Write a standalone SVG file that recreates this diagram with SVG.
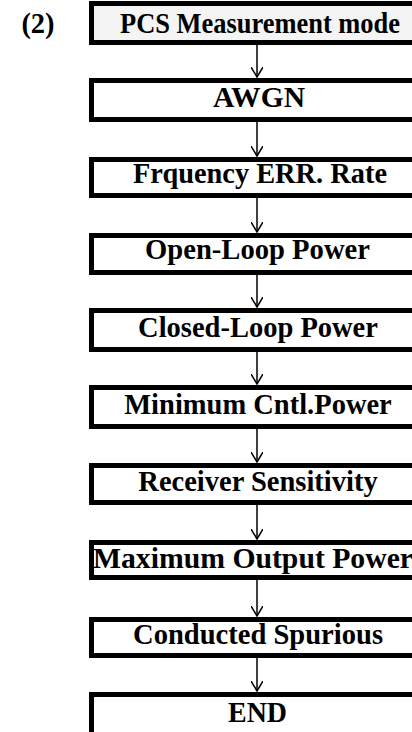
<svg xmlns="http://www.w3.org/2000/svg" width="412" height="732" viewBox="0 0 412 732">
<style>
.box{fill:#fff;stroke:#000;stroke-width:5}
.lbl{font-family:"Liberation Serif","Times New Roman",serif;font-weight:bold;font-size:28.5px;fill:#000;text-anchor:middle}
.c{fill:none;stroke:#000;stroke-width:1.5}
</style>
<defs>
<marker id="ah" viewBox="0 0 12 12" refX="10" refY="6" markerWidth="12" markerHeight="12" markerUnits="userSpaceOnUse" orient="auto">
<path d="M0,0 L10,6 L0,12" fill="none" stroke="#000" stroke-width="1.5"/>
</marker>
</defs>
<rect width="412" height="732" fill="#fff"/>
<text class="lbl" x="38" y="33">(2)</text>
<g id="connectors">
<line class="c" x1="257" y1="45" x2="257" y2="77" marker-end="url(#ah)"/>
<line class="c" x1="257" y1="122" x2="257" y2="156" marker-end="url(#ah)"/>
<line class="c" x1="257" y1="198" x2="257" y2="232" marker-end="url(#ah)"/>
<line class="c" x1="257" y1="275" x2="257" y2="307" marker-end="url(#ah)"/>
<line class="c" x1="257" y1="352" x2="257" y2="384" marker-end="url(#ah)"/>
<line class="c" x1="257" y1="429" x2="257" y2="462" marker-end="url(#ah)"/>
<line class="c" x1="257" y1="505" x2="257" y2="539" marker-end="url(#ah)"/>
<line class="c" x1="257" y1="580" x2="257" y2="616" marker-end="url(#ah)"/>
<line class="c" x1="257" y1="658" x2="257" y2="691" marker-end="url(#ah)"/>
</g>
<g id="n1"><rect class="box" x="91.5" y="3.5" width="330" height="39" style="fill:#f4f4f4"/><text class="lbl" x="260" y="33" textLength="280" lengthAdjust="spacingAndGlyphs">PCS Measurement mode</text></g>
<g id="n2"><rect class="box" x="91.5" y="80.5" width="330" height="39"/><text class="lbl" x="259" y="107" textLength="92" lengthAdjust="spacingAndGlyphs">AWGN</text></g>
<g id="n3"><rect class="box" x="91.5" y="159.5" width="330" height="36"/><text class="lbl" x="260" y="183" textLength="254" lengthAdjust="spacingAndGlyphs">Frquency ERR. Rate</text></g>
<g id="n4"><rect class="box" x="91.5" y="235.5" width="330" height="37"/><text class="lbl" x="257.5" y="259" textLength="225" lengthAdjust="spacingAndGlyphs">Open-Loop Power</text></g>
<g id="n5"><rect class="box" x="91.5" y="310.5" width="330" height="39"/><text class="lbl" x="258" y="337">Closed-Loop Power</text></g>
<g id="n6"><rect class="box" x="91.5" y="387.5" width="330" height="39"/><text class="lbl" x="258" y="414">Minimum Cntl.Power</text></g>
<g id="n7"><rect class="box" x="91.5" y="465.5" width="330" height="37"/><text class="lbl" x="258" y="491">Receiver Sensitivity</text></g>
<g id="n8"><rect class="box" x="91.5" y="542.5" width="330" height="35"/><text class="lbl" x="253" y="568" textLength="320" lengthAdjust="spacingAndGlyphs">Maximum Output Power</text></g>
<g id="n9"><rect class="box" x="91.5" y="619.5" width="330" height="36"/><text class="lbl" x="258" y="644" textLength="250" lengthAdjust="spacingAndGlyphs">Conducted Spurious</text></g>
<g id="n10"><rect class="box" x="91.5" y="694.5" width="330" height="40"/><text class="lbl" x="257.5" y="722" textLength="59" lengthAdjust="spacingAndGlyphs">END</text></g>
</svg>
